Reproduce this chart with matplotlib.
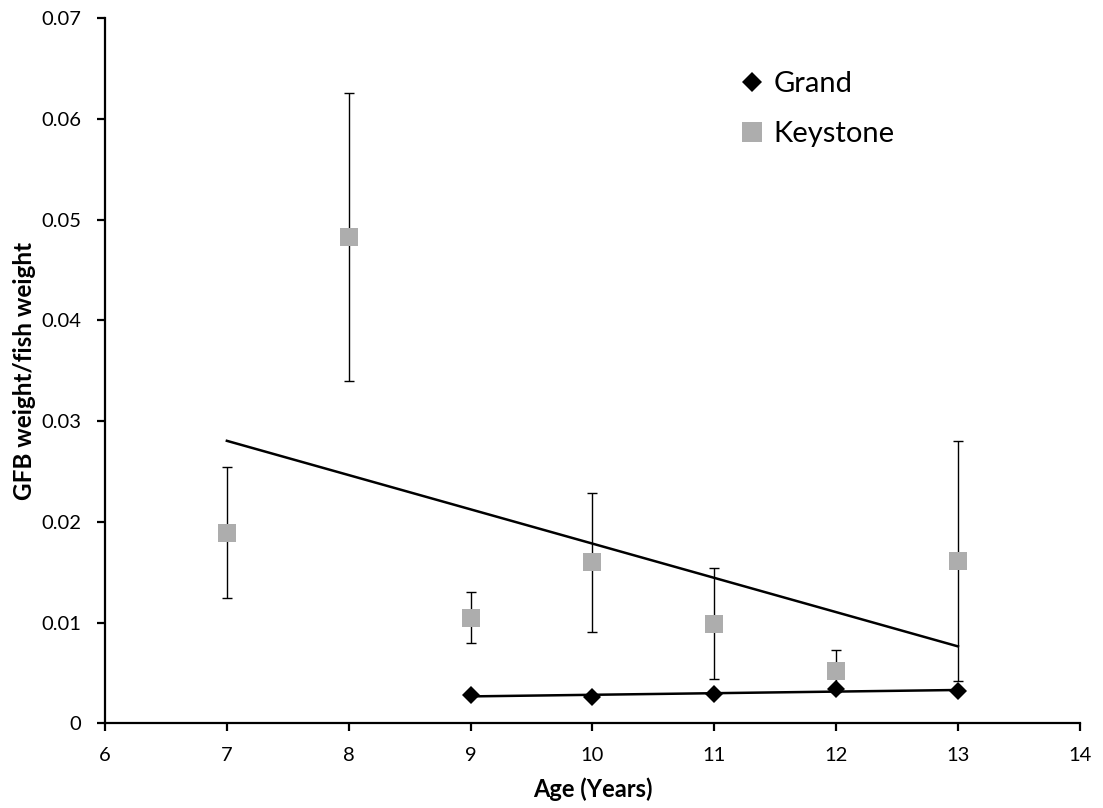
import numpy as np
import matplotlib
matplotlib.use("Agg")
import matplotlib.pyplot as plt
from matplotlib.lines import Line2D

plt.rcParams['font.family'] = ['Lato', 'DejaVu Sans']

# Keystone reservoir: mean ratio and error per age
keystone_age = [7, 8, 9, 10, 11, 12, 13]
keystone_ratio = [0.0189, 0.0483, 0.0105, 0.0160, 0.0099, 0.0052, 0.0161]
keystone_err = [0.0065, 0.0143, 0.0025, 0.0069, 0.0055, 0.0021, 0.0119]

# Grand reservoir: mean ratio per age
grand_age = [9, 10, 11, 12, 13]
grand_ratio = [0.00282, 0.00265, 0.00289, 0.00338, 0.00325]

x_ticks = [6, 7, 8, 9, 10, 11, 12, 13, 14]
y_ticks = [0, 0.01, 0.02, 0.03, 0.04, 0.05, 0.06, 0.07]
y_tick_labels = ['0', '0.01', '0.02', '0.03', '0.04', '0.05', '0.06', '0.07']

fig = plt.figure(figsize=(11.03, 8.08), dpi=100)
ax = fig.add_axes([0.0952, 0.1047, 0.979 - 0.0952, 0.9777 - 0.1047])

grey = '#ADADAD'

# Keystone points with error bars
ax.errorbar(keystone_age, keystone_ratio, yerr=keystone_err, fmt='none',
            ecolor='black', elinewidth=1.0, capsize=3.6, capthick=1.0, zorder=2)
ax.plot(keystone_age, keystone_ratio, linestyle='none', marker='s',
        markersize=13.5, color=grey, markeredgewidth=0, zorder=3)

# Linear trend for Keystone
k_fit = np.polyfit(keystone_age, keystone_ratio, 1)
k_x = np.array([min(keystone_age), max(keystone_age)])
ax.plot(k_x, np.polyval(k_fit, k_x), color='black', linewidth=1.8, zorder=4)

# Linear trend for Grand
g_fit = np.polyfit(grand_age, grand_ratio, 1)
g_x = np.array([min(grand_age), max(grand_age)])
ax.plot(g_x, np.polyval(g_fit, g_x), color='black', linewidth=1.8, zorder=4)

# Grand points
ax.plot(grand_age, grand_ratio, linestyle='none', marker='D',
        markersize=8.8, color='black', markeredgewidth=0, zorder=5)

ax.set_xlim(6, 14)
ax.set_ylim(0, 0.07)
ax.set_xticks(x_ticks)
ax.set_xticklabels([str(t) for t in x_ticks])
ax.set_yticks(y_ticks)
ax.set_yticklabels(y_tick_labels)

for side in ('top', 'right'):
    ax.spines[side].set_visible(False)
for side in ('left', 'bottom'):
    ax.spines[side].set_linewidth(1.6)
    ax.spines[side].set_color('black')

ax.tick_params(axis='both', direction='out', length=6, width=1.6,
               labelsize=14.5, colors='black')
ax.tick_params(axis='y', pad=11)
ax.tick_params(axis='x', pad=11)

ax.set_xlabel('Age (Years)', fontsize=17, fontweight='bold', labelpad=10)
ax.set_ylabel('GFB weight/fish weight', fontsize=17.5, fontweight='bold', labelpad=4)

handles = [
    Line2D([], [], linestyle='none', marker='D', markersize=10.5, color='black',
           markeredgewidth=0),
    Line2D([], [], linestyle='none', marker='s', markersize=14.5, color=grey,
           markeredgewidth=0),
]
ax.legend(handles, ['Grand', 'Keystone'], loc='upper left',
          bbox_to_anchor=(0.652, 0.925), frameon=False, fontsize=21,
          handlelength=0.8, handletextpad=0.33, labelspacing=0.82,
          borderaxespad=0, borderpad=0)

fig.savefig('out.png', dpi=100)
